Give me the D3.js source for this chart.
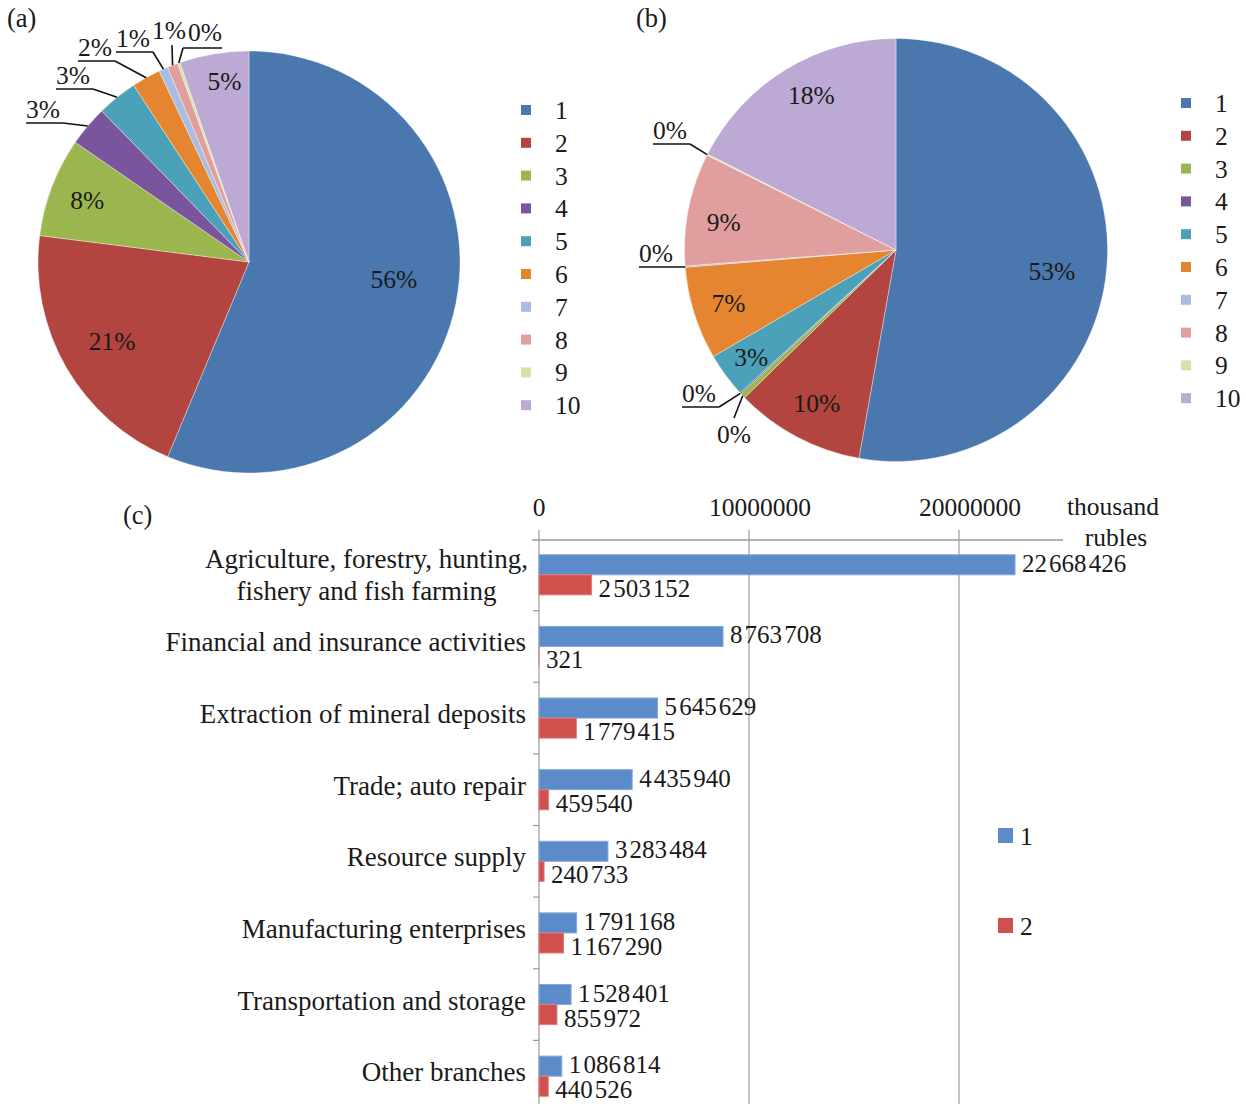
<!DOCTYPE html>
<html><head><meta charset="utf-8">
<script src="https://cdn.jsdelivr.net/npm/d3@7"></script>
<style>
html,body{margin:0;padding:0;background:#fff;}
svg text{font-family:"Liberation Serif","Times New Roman",serif;fill:#1a1a1a;}
</style></head>
<body>
<svg id="c" width="1246" height="1104"></svg>
<script>
// ---------- data ----------
const pieCategories = ["1","2","3","4","5","6","7","8","9","10"];
const pieAValues = [56.3, 20.7, 7.6, 3.1, 3.1, 2.2, 0.7, 0.8, 0.2, 5.3];
const pieBValues = [52.8, 9.9, 0.4, 0.1, 3.4, 7.1, 0.1, 8.6, 0.1, 17.5];
const branches = [
  "Agriculture, forestry, hunting,|fishery and fish farming",
  "Financial and insurance activities",
  "Extraction of mineral deposits",
  "Trade; auto repair",
  "Resource supply",
  "Manufacturing enterprises",
  "Transportation and storage",
  "Other branches"
];
const series1 = [22668426, 8763708, 5645629, 4435940, 3283484, 1791168, 1528401, 1086814];
const series2 = [2503152, 321, 1779415, 459540, 240733, 1167290, 855972, 440526];
const seriesNames = ["1","2"];
const xTicks = [0, 10000000, 20000000];
const unitLabel = ["thousand","rubles"];

// ---------- styles / layout ----------
const pieColors = ["#4a77ad","#b2453f","#9bb64e","#7a559d","#4ba1b8","#e5852f","#a9bce2","#e09f9e","#d6e3a6","#bcaad5"];
const barColors = ["#5b8bc8","#d0504d"];
const barStroke = ["#86a9d9","#e07d7a"];
const svg = d3.select("#c");
const FS = 25.5;
const FC = 27;
const FV = 25;

function drawPie(cfg){
  const g = svg.append("g").attr("transform",`translate(${cfg.cx},${cfg.cy})`);
  const arcs = d3.pie().sort(null).value(d=>d)(cfg.values);
  const arc = d3.arc().innerRadius(0).outerRadius(cfg.r);
  g.selectAll("path.s").data(arcs).join("path").attr("class","s")
    .attr("d",arc).attr("fill",(d,i)=>pieColors[i])
    .attr("stroke","#ffffff").attr("stroke-opacity",0.45).attr("stroke-width",0.8);
  const pct = v => Math.round(v)+"%";
  // inside labels
  cfg.inside.forEach(o=>{
    const a = arcs[o.i];
    const m = (a.startAngle+a.endAngle)/2;
    const rr = cfg.r*o.k;
    g.append("text").attr("x",Math.sin(m)*rr+(o.dx||0)).attr("y",-Math.cos(m)*rr+9+(o.dy||0))
      .attr("text-anchor","middle").attr("font-size",FS).text(pct(cfg.values[o.i]));
  });
  // outside labels with leaders
  cfg.outside.forEach(o=>{
    const a = arcs[o.i];
    const m = (a.startAngle+a.endAngle)/2;
    const sx = Math.sin(m)*cfg.r, sy = -Math.cos(m)*cfg.r;
    const t = g.append("text").attr("font-size",FS).text(pct(cfg.values[o.i]));
    const w = t.node().getComputedTextLength();
    g.append("line").attr("x1",sx).attr("y1",sy).attr("x2",o.ex).attr("y2",o.ey)
      .attr("stroke","#111").attr("stroke-width",1.6);
    if(o.dir===-1){
      const L = o.len || (w+3);
      g.append("line").attr("x1",o.ex).attr("y1",o.ey).attr("x2",o.ex-L).attr("y2",o.ey)
        .attr("stroke","#111").attr("stroke-width",1.6);
      t.attr("x",o.ex-L).attr("y",o.ey-5).attr("text-anchor","start");
    } else if(o.dir===1){
      const L = w+5;
      g.append("line").attr("x1",o.ex).attr("y1",o.ey).attr("x2",o.ex+L).attr("y2",o.ey)
        .attr("stroke","#111").attr("stroke-width",1.6);
      t.attr("x",o.ex+L).attr("y",o.ey-7).attr("text-anchor","end");
    } else if(o.dir==="up"){
      t.attr("x",o.ex-3).attr("y",o.ey-6).attr("text-anchor","middle");
    } else {
      t.attr("x",o.ex).attr("y",o.ey+25).attr("text-anchor","middle");
    }
  });
  // legend
  const lg = svg.append("g");
  pieCategories.forEach((c,i)=>{
    const y = cfg.ly + i*cfg.lstep;
    lg.append("rect").attr("x",cfg.lx-5).attr("y",y-5).attr("width",10).attr("height",10).attr("fill",pieColors[i]);
    lg.append("text").attr("x",cfg.lx+29).attr("y",y+9).attr("font-size",FS).text(c);
  });
  svg.append("text").attr("x",cfg.tx).attr("y",cfg.ty).attr("font-size",FS+1).text(cfg.title);
}

drawPie({cx:249, cy:262, r:211, values:pieAValues, title:"(a)", tx:7, ty:27,
  lx:526, ly:110, lstep:32.8,
  inside:[{i:0,k:0.70,dy:-12},{i:1,k:0.75},{i:2,k:0.82},{i:9,k:0.87,dx:6}],
  outside:[
    {i:3, ex:-186, ey:-139, dir:-1},
    {i:4, ex:-156, ey:-173, dir:-1},
    {i:5, ex:-134, ey:-201, dir:-1},
    {i:6, ex:-96,  ey:-210, dir:-1},
    {i:7, ex:-77,  ey:-217, dir:"up"},
    {i:8, ex:-66,  ey:-214, dir:1}
  ]});

drawPie({cx:896, cy:250, r:211.5, values:pieBValues, title:"(b)", tx:636, ty:27,
  lx:1186, ly:103, lstep:32.8,
  inside:[{i:0,k:0.74,dy:7},{i:1,k:0.82,dx:2},{i:4,k:0.85},{i:5,k:0.83},{i:7,k:0.83,dy:6},{i:9,k:0.83,dx:7,dy:-5}],
  outside:[
    {i:8, ex:-206, ey:-106, dir:-1},
    {i:6, ex:-211, ey:17, dir:-1, len:46},
    {i:3, ex:-177, ey:157, dir:-1},
    {i:2, ex:-162, ey:168, dir:"down"}
  ]});

// ---------- bar chart (c) ----------
const x = d3.scaleLinear().domain([0,20000000]).range([539,959]);
const y = d3.scaleBand().domain(branches).range([539,1112]).padding(0);
const ys = d3.scaleBand().domain(seriesNames).range([y.bandwidth()*0.22, y.bandwidth()*0.78]).padding(0);
const gridC = "#9a9a9a";
const bg = svg.append("g");
// gridlines + ticks
bg.selectAll("line.grid").data(xTicks).join("line").attr("class","grid")
  .attr("x1",d=>x(d)).attr("x2",d=>x(d)).attr("y1",530).attr("y2",1104)
  .attr("stroke",gridC).attr("stroke-width",1.2);
bg.append("line").attr("x1",532).attr("x2",1063).attr("y1",540).attr("y2",540)
  .attr("stroke",gridC).attr("stroke-width",1.4);
// y tick marks at band boundaries
bg.selectAll("line.yt").data(branches).join("line").attr("class","yt")
  .attr("x1",533).attr("x2",539).attr("y1",d=>y(d)+y.bandwidth()).attr("y2",d=>y(d)+y.bandwidth())
  .attr("stroke",gridC).attr("stroke-width",1.2);
// x tick labels
const fmtTick = d3.format("d");
bg.selectAll("text.xt").data(xTicks).join("text").attr("class","xt")
  .attr("x",d=>x(d)+(d?11:0)).attr("y",516).attr("text-anchor","middle").attr("font-size",FS)
  .text(d=>fmtTick(d));
bg.append("text").attr("x",1113).attr("y",515).attr("text-anchor","middle").attr("font-size",FS).text(unitLabel[0]);
bg.append("text").attr("x",1116).attr("y",546).attr("text-anchor","middle").attr("font-size",FS).text(unitLabel[1]);
svg.append("text").attr("x",123).attr("y",524).attr("font-size",FS+1).text("(c)");

// category labels
branches.forEach(b=>{
  const lines = b.split("|");
  const cy = y(b)+y.bandwidth()/2;
  if(lines.length===1){
    bg.append("text").attr("x",526).attr("y",cy+5).attr("text-anchor","end").attr("font-size",FC).text(lines[0]);
  } else {
    const ts = lines.map((l,k)=>bg.append("text").attr("y",cy+(k-0.5)*32+9).attr("text-anchor","middle").attr("font-size",FC).text(l));
    const mw = d3.max(ts,t=>t.node().getComputedTextLength());
    ts.forEach(t=>t.attr("x",528-mw/2));
  }
});

// bars
const grp = d => (d+"").replace(/\B(?=(\d{3})+(?!\d))/g,"\u200A");
[series1,series2].forEach((ser,si)=>{
  const s = seriesNames[si];
  bg.selectAll("rect.b"+si).data(ser).join("rect").attr("class","b"+si)
    .attr("x",x(0)).attr("y",(d,i)=>y(branches[i])+ys(s))
    .attr("width",d=>Math.max(0,x(d)-x(0))).attr("height",ys.bandwidth())
    .attr("fill",barColors[si]).attr("stroke",barStroke[si]).attr("stroke-width",1);
  bg.selectAll("text.v"+si).data(ser).join("text").attr("class","v"+si)
    .attr("x",d=>x(d)+7).attr("y",(d,i)=>y(branches[i])+ys(s)+ys.bandwidth()/2+(si?12:7))
    .attr("font-size",FV).text(d=>grp(d));
});

// bar legend
seriesNames.forEach((s,i)=>{
  const ly = 836 + i*90;
  svg.append("rect").attr("x",998).attr("y",ly-8).attr("width",15).attr("height",15).attr("fill",barColors[i]);
  svg.append("text").attr("x",1020).attr("y",ly+9).attr("font-size",FS).text(s);
});
</script>
</body></html>
